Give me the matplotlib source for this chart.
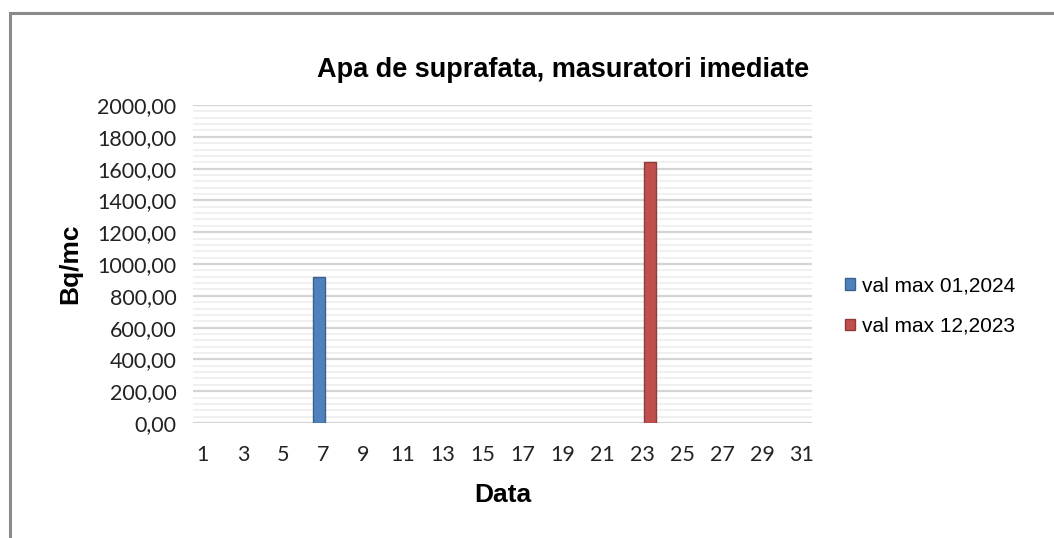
import numpy as np
import matplotlib.pyplot as plt
from matplotlib.patches import Rectangle
from matplotlib.ticker import MultipleLocator, FuncFormatter

# data
days = list(range(1, 32))
val_2024_01 = [0] * 31
val_2024_01[6] = 920      # day 7
val_2023_12 = [0] * 31
val_2023_12[22] = 1640    # day 23
series_names = ['val max 01,2024', 'val max 12,2023']
colors = ['#4F81BD', '#C0504D']
edge_colors = ['#3A6190', '#8E3B39']

fig = plt.figure(figsize=(10.54, 5.38), dpi=100)

# outer chart frame (cut off at right and bottom in the reference)
fig.patches.append(Rectangle((10 / 1054, -0.1), 1.2, 1 - 13 / 538 + 0.1,
                             transform=fig.transFigure, fill=False,
                             edgecolor='#8a8a8a', linewidth=2.2))

ax = fig.add_axes([193 / 1054, 1 - 423 / 538, (812 - 193) / 1054, (423 - 105) / 538])

x = np.array(days)
offsets = [-0.17, 0.38]
for vals, name, c, ec, off in zip([val_2024_01, val_2023_12], series_names, colors, edge_colors, offsets):
    v = np.array(vals, dtype=float)
    mask = v > 0
    ax.bar(x[mask] + off, v[mask], width=0.6, color=c, edgecolor=ec, linewidth=1.0,
           label=name, zorder=3)

ax.set_xlim(0.5, 31.5)
ax.set_ylim(0, 2000)
ax.yaxis.set_major_locator(MultipleLocator(200))
ax.yaxis.set_minor_locator(MultipleLocator(40))
ax.yaxis.set_major_formatter(FuncFormatter(lambda v, p: f'{v:.2f}'.replace('.', ',')))
ax.set_xticks(days[::2])
ax.grid(axis='y', which='major', color='#d4d4d4', linewidth=1.6, zorder=0)
ax.grid(axis='y', which='minor', color='#ececec', linewidth=1.1, zorder=0)
for s in ax.spines.values():
    s.set_visible(False)
ax.tick_params(axis='both', which='both', length=0, labelsize=15.5)
ax.tick_params(axis='x', pad=16)
ax.tick_params(axis='y', pad=12)
for lab in ax.get_xticklabels() + ax.get_yticklabels():
    lab.set_fontfamily('Lato')
    lab.set_color('#222222')

fig.text(563 / 1054, 1 - 70 / 538, 'Apa de suprafata, masuratori imediate', fontsize=19.5,
         fontweight='bold', family='Liberation Sans', ha='center', va='center')
ax.set_xlabel('Data', fontsize=19, fontweight='bold', family='Liberation Sans', labelpad=13)
ax.set_ylabel('Bq/mc', fontsize=19, fontweight='bold', family='Liberation Sans', labelpad=11)

leg = fig.legend(loc='center left', bbox_to_anchor=(826 / 1054, 1 - 306 / 538), frameon=False,
                 prop={'family': 'Liberation Sans', 'size': 15}, handlelength=0.5,
                 handleheight=0.5, handletextpad=0.35, labelspacing=1.05)

fig.savefig('out.png', dpi=100)
